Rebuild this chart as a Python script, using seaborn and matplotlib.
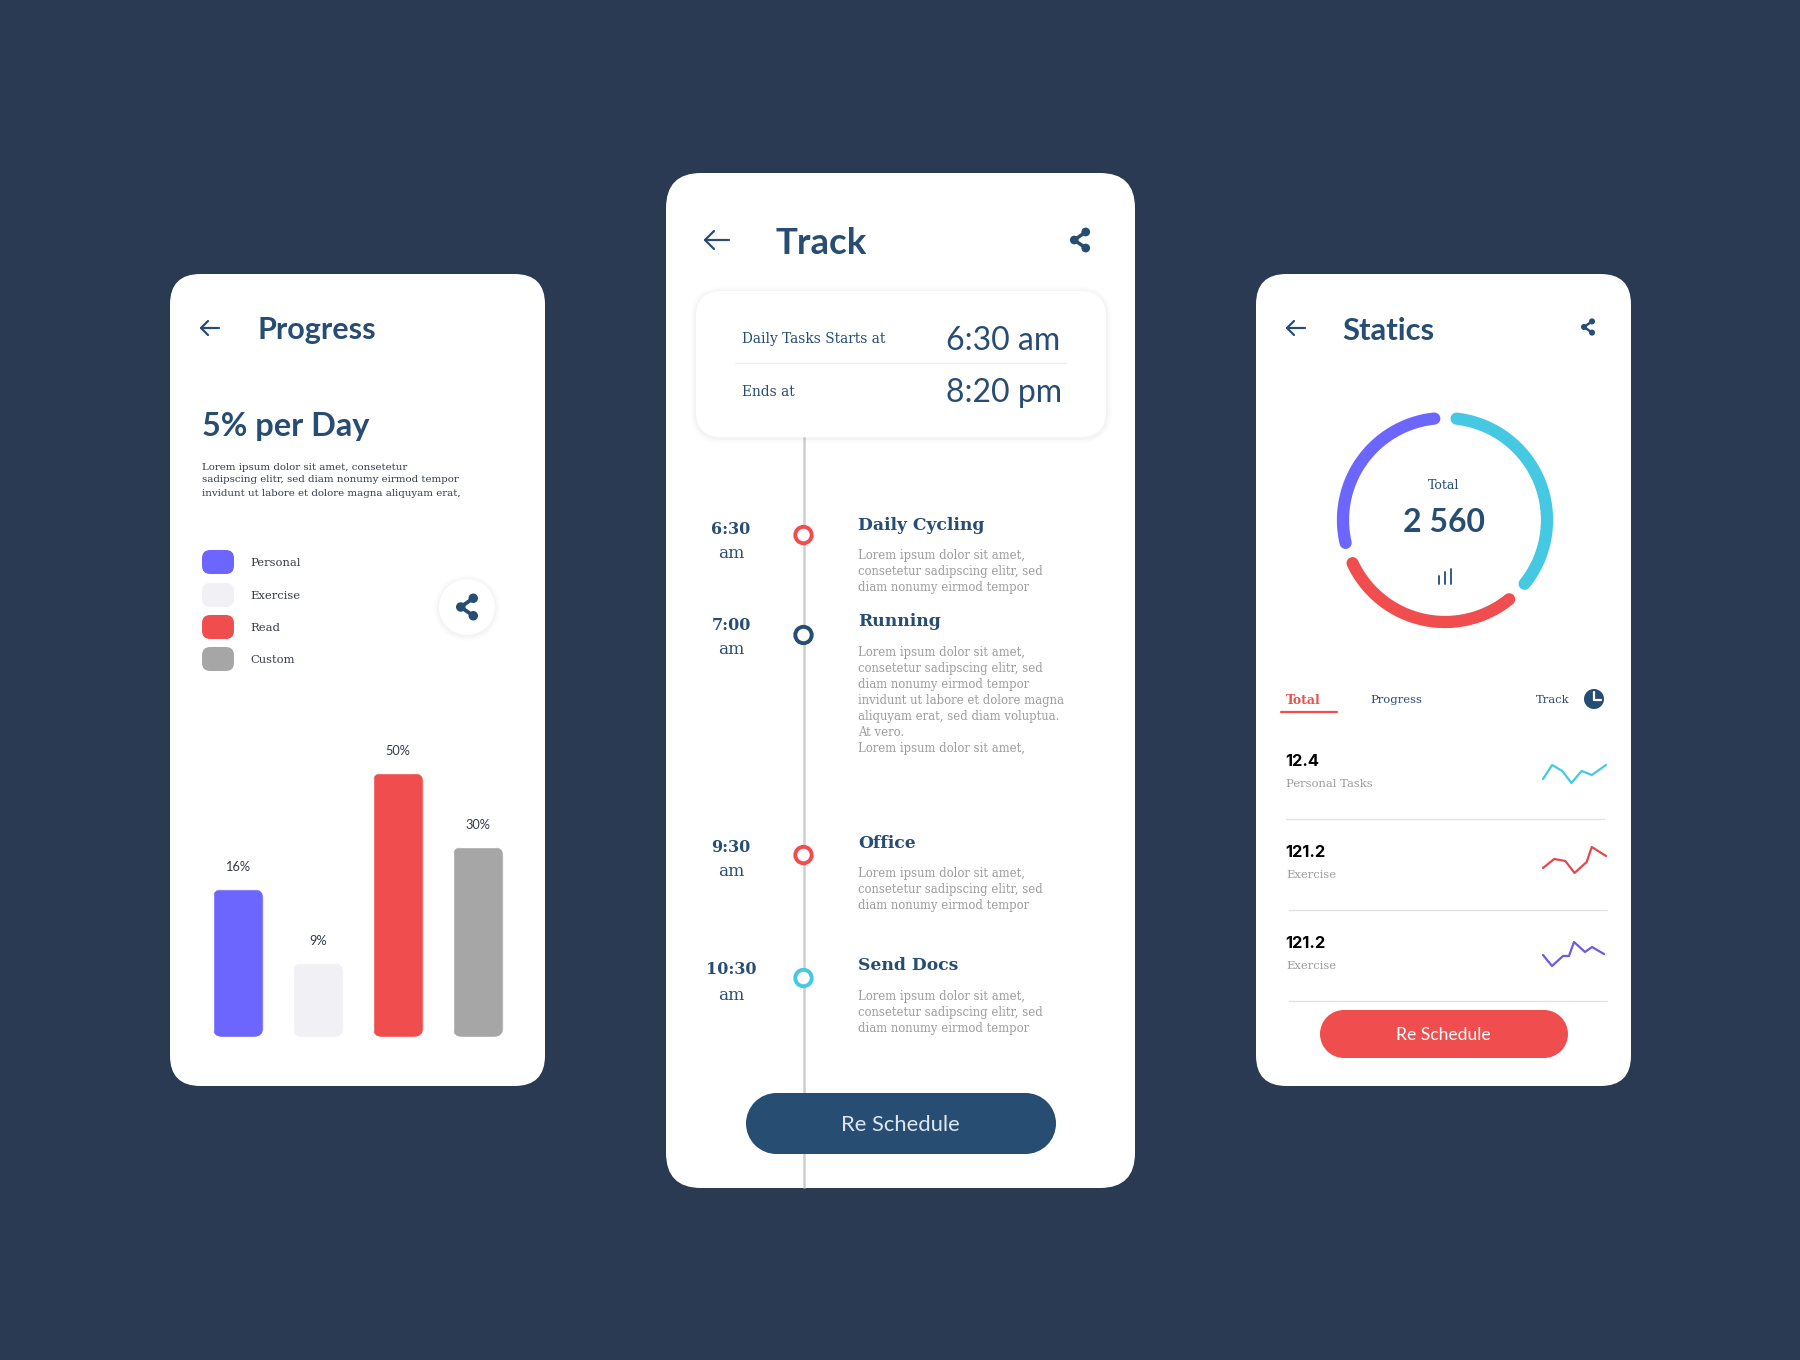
import numpy as np
import pandas as pd
import matplotlib
matplotlib.use("Agg")
import matplotlib.pyplot as plt
from matplotlib.patches import FancyBboxPatch, Circle, Rectangle
from matplotlib.transforms import IdentityTransform
import seaborn as sns

BG = "#2B3A53"; NAVY = "#274D73"; RED = "#F04E4E"; PURPLE = "#6C66FF"
CYAN = "#45C9E3"; GREY = "#A6A6A6"; LIGHT = "#F1F1F5"; BODY = "#9C9C9C"

# ---- data ----
bar_categories = ["Personal", "Exercise", "Read", "Custom"]
bar_heights = [28, 14, 50, 36]
bar_labels = ["16%", "9%", "50%", "30%"]
bar_colors = [PURPLE, LIGHT, RED, GREY]

donut_starts = [6.5, 141, 257]
donut_ends = [128.7, 245, 354]
donut_colors = [CYAN, RED, PURPLE]

spark_cyan_x = [0, 9, 19, 28, 38, 48, 62]
spark_cyan_y = [4, 18, 12, 0, 12, 8, 18]
spark_red_x = [0, 11, 22, 31, 43, 48, 62]
spark_red_y = [5, 14, 12, 0, 11, 26, 17]
spark_purple_x = [0, 9, 20, 26, 31, 42, 49, 61]
spark_purple_y = [11, 0, 10, 10, 24, 14, 19, 12]

stat_values = ["12.4", "121.2", "121.2"]
stat_names = ["Personal Tasks", "Exercise", "Exercise"]

times = ["6:30", "7:00", "9:30", "10:30"]
task_titles = ["Daily Cycling", "Running", "Office", "Send Docs"]
short_body = ["Lorem ipsum dolor sit amet,", "consetetur sadipscing elitr, sed", "diam nonumy eirmod tempor"]
long_body = short_body + ["invidunt ut labore et dolore magna", "aliquyam erat, sed diam voluptua.",
                          "At vero.", "Lorem ipsum dolor sit amet,"]
task_bodies = [short_body, long_body, short_body, short_body]
intro = ["Lorem ipsum dolor sit amet, consetetur", "sadipscing elitr, sed diam nonumy eirmod tempor",
         "invidunt ut labore et dolore magna aliquyam erat,"]

# ---- layout ----
sns.set_theme(style="white")
SERIF = "DejaVu Serif"; HEAD = "Lato"
W, H = 1800, 1360
fig = plt.figure(figsize=(W / 100, H / 100), dpi=100, facecolor=BG)
bg = fig.add_axes([0, 0, 1, 1]); bg.set_xlim(0, W); bg.set_ylim(H, 0); bg.axis("off")


def px_axes(x0, y0, x1, y1, **kw):
    ax = fig.add_axes([x0 / W, 1 - y1 / H, (x1 - x0) / W, (y1 - y0) / H], **kw)
    ax.patch.set_alpha(0)
    return ax


def rrect(x0, y0, x1, y1, r, fc, z=1, alpha=1):
    r = r * 1.17
    p = FancyBboxPatch((x0 + r, y0 + r), x1 - x0 - 2 * r, y1 - y0 - 2 * r,
                       boxstyle=f"round,pad={r},rounding_size={r}", fc=fc, ec="none", lw=0, alpha=alpha, zorder=z)
    bg.add_patch(p)
    return p


def pill(x0, y0, x1, y1, fc, z=4):
    r = (y1 - y0) / 2
    bg.add_patch(Rectangle((x0 + r, y0), x1 - x0 - 2 * r, y1 - y0, fc=fc, ec="none", lw=0, zorder=z))
    for cx in (x0 + r, x1 - r):
        bg.add_patch(Circle((cx, y0 + r), r, fc=fc, ec="none", lw=0, zorder=z))


def T(x, y, s, px, color=NAVY, family=SERIF, weight="normal", ha="left"):
    bg.text(x, y, s, fontsize=px * 0.72, color=color, family=family, weight=weight,
            ha=ha, va="center_baseline", zorder=6)


def shadow(x0, y0, x1, y1, r):
    for d, a in ((6, .008), (4, .014), (2, .02)):
        rrect(x0 - d, y0 - d + 1, x1 + d, y1 + d + 1, r + d, "#000000", z=2, alpha=a)


def arrow(x0, x1, y, s=7):
    bg.plot([x0, x1], [y, y], color=NAVY, lw=1.6, solid_capstyle="round", zorder=6)
    bg.plot([x0 + s, x0, x0 + s], [y - s, y, y + s], color=NAVY, lw=1.6, solid_capstyle="round",
            solid_joinstyle="round", zorder=6)


def share(cx, cy, s=1.0):
    a, b, c = (cx + 5 * s, cy - 7 * s), (cx - 5 * s, cy), (cx + 5 * s, cy + 7 * s)
    bg.plot([a[0], b[0], c[0]], [a[1], b[1], c[1]], color=NAVY, lw=2.2 * s, zorder=7)
    for p in (a, b, c):
        bg.add_patch(Circle(p, 3.8 * s, fc=NAVY, ec="none", zorder=7))


# cards
rrect(170, 274, 545, 1086, 26, "white")
rrect(666, 173, 1135, 1188, 30, "white")
rrect(1256, 274, 1631, 1086, 26, "white")

# ---- left card ----
arrow(201, 219, 328)
T(257, 328, "Progress", 30.5, family=HEAD, weight="bold")
T(202, 424, "5% per Day", 32.5, family=HEAD, weight="bold")
for y, line in zip((466, 479, 492), intro):
    T(202, y, line, 10.3, color="#333B4A")
for y, name, col in zip((562, 595, 627, 659), bar_categories, bar_colors):
    rrect(202, y - 12, 234, y + 12, 7, col, z=3)
    T(250, y, name, 11.5, color="#333B4A")
shadow(439, 579, 495, 635, 28)
bg.add_patch(Circle((467, 607), 28, fc="white", ec="none", zorder=3))
share(467, 607, 1.25)

ax_bar = px_axes(198, 773, 518, 1037)
sns.barplot(x=bar_categories, y=bar_heights, hue=bar_categories, palette=bar_colors, legend=False,
            width=0.635, saturation=1, ax=ax_bar)
ax_bar.set_xlim(-0.5, 3.5); ax_bar.set_ylim(0, 50); ax_bar.axis("off")
for patch in ax_bar.patches:
    (xa, ya), (xb, yb) = ax_bar.transData.transform(
        [(patch.get_x(), 0), (patch.get_x() + patch.get_width(), patch.get_height())])
    r = 10
    clip = FancyBboxPatch((xa + r, ya + r), xb - xa - 2 * r, yb - ya - 2 * r,
                          boxstyle=f"round,pad={r},rounding_size={r}", transform=IdentityTransform())
    patch.set_clip_path(clip)
for i, (h, lab) in enumerate(zip(bar_heights, bar_labels)):
    ax_bar.annotate(lab, (i, h), xytext=(0, 16), textcoords="offset pixels", ha="center", va="bottom",
                    fontsize=9.2, color="#333B4A", family="Lato", annotation_clip=False)

# ---- middle card ----
arrow(705, 729, 240, 9)
T(775, 240, "Track", 36.6, family=HEAD, weight="bold")
share(1080, 240, 1.15)
bg.plot([803.5, 803.5], [437, 1188], color="#CFCFCF", lw=1.8, zorder=2, solid_capstyle="butt")
shadow(696, 291, 1106, 437, 22)
rrect(696, 291, 1106, 437, 22, "white", z=3)
T(742, 338, "Daily Tasks Starts at", 13.8)
T(742, 390, "Ends at", 13.8)
T(946, 338, "6:30 am", 32, family=HEAD)
T(946, 390, "8:20 pm", 32, family=HEAD)
bg.plot([735, 1066], [363, 363], color="#EEEEEE", lw=1, zorder=4)

dot_y = [535, 635, 855, 978]
dot_colors = [RED, NAVY, RED, CYAN]
time_y = [527, 623, 845, 968]
title_y = [524, 620, 842, 964]
body_y = [554.5, 651, 872.5, 995]
for t, ty, dy, dc, title, tly, body, by in zip(times, time_y, dot_y, dot_colors, task_titles, title_y, task_bodies, body_y):
    T(731, ty, t, 16, weight="bold", ha="center")
    T(731, ty + 25, "am", 17, ha="center")
    bg.add_patch(Circle((803.5, dy), 8.2, fc="white", ec=dc, lw=2.8, zorder=5))
    T(858, tly, title, 17.1, weight="bold")
    for k, line in enumerate(body):
        T(858, by + k * 16, line, 11.6, color=BODY)
pill(746, 1093, 1056, 1154, NAVY)
T(900, 1123, "Re Schedule", 22, color="#DDE6F0", family=HEAD, ha="center")

# ---- right card ----
arrow(1287, 1305, 328)
T(1342, 328, "Statics", 31, family=HEAD, weight="bold")
share(1588, 327, 0.8)

R = 102
ax_d = px_axes(1445 - R, 520 - R, 1445 + R, 520 + R, projection="polar")
ax_d.set_theta_zero_location("N"); ax_d.set_theta_direction(-1)
for a0, a1, col in zip(donut_starts, donut_ends, donut_colors):
    theta = np.radians(np.linspace(a0, a1, 100))
    ax_d.plot(theta, np.ones_like(theta), color=col, lw=8.8, solid_capstyle="round", clip_on=False)
ax_d.set_ylim(0, 1); ax_d.axis("off")

T(1444, 484, "Total", 12.5, ha="center")
T(1444, 520, "2 560", 32, family=HEAD, weight="bold", ha="center")
for x, top in zip((1439, 1445, 1451), (576, 572, 569)):
    bg.plot([x, x], [top, 584], color=NAVY, lw=1.3, zorder=6)

T(1286, 699, "Total", 12.5, color=RED, weight="bold")
bg.plot([1281, 1337], [712, 712], color=RED, lw=1.6, zorder=6, solid_capstyle="round")
T(1370, 699, "Progress", 11.5)
T(1536, 699, "Track", 11.5)
bg.add_patch(Circle((1594, 699), 10, fc=NAVY, ec="none", zorder=6))
bg.plot([1594, 1594, 1601], [692, 700, 700], color="white", lw=1.6, zorder=7)

for y, val, name in zip((760, 851, 942), stat_values, stat_names):
    T(1285, y, val, 16.5, color="black", family="Inter", weight="bold")
    T(1286, y + 23, name, 11.5, color=BODY)
for y, x0, x1 in ((819, 1286, 1604), (910, 1289, 1607), (1001, 1289, 1607)):
    bg.plot([x0, x1], [y, y], color="#E3E3E3", lw=1, zorder=4)

for xs, ys, col, box in ((spark_cyan_x, spark_cyan_y, CYAN, (1543, 765, 1606, 783)),
                         (spark_red_x, spark_red_y, "#E0494F", (1543, 847, 1606, 873)),
                         (spark_purple_x, spark_purple_y, "#6C5CE0", (1543, 942, 1604, 966))):
    ax = px_axes(*box)
    sns.lineplot(x=xs, y=ys, color=col, lw=1.6, estimator=None, sort=False, ax=ax, clip_on=False)
    ax.set_xlim(min(xs), max(xs)); ax.set_ylim(min(ys), max(ys)); ax.axis("off")

pill(1320, 1010, 1568, 1058, RED)
T(1443, 1034, "Re Schedule", 17.5, color="white", family=HEAD, ha="center")

fig.savefig("out.png", dpi=100, facecolor=BG)
